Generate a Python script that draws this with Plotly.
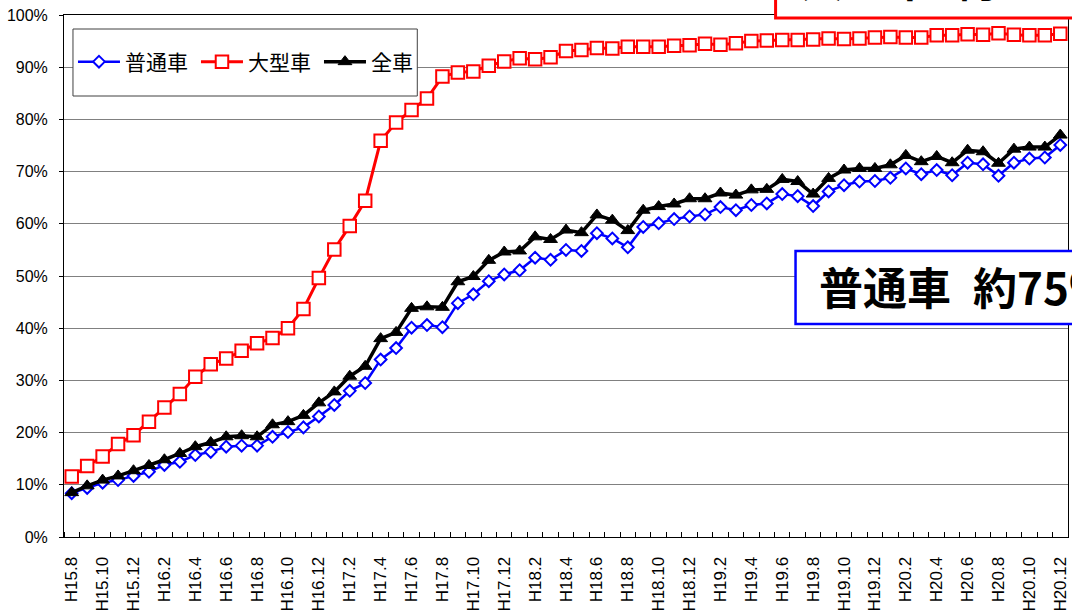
import plotly.graph_objects as go

# 月（平成）
months = [
    "H15.8", "H15.9", "H15.10", "H15.11", "H15.12",
    "H16.1", "H16.2", "H16.3", "H16.4", "H16.5", "H16.6", "H16.7", "H16.8", "H16.9", "H16.10", "H16.11", "H16.12",
    "H17.1", "H17.2", "H17.3", "H17.4", "H17.5", "H17.6", "H17.7", "H17.8", "H17.9", "H17.10", "H17.11", "H17.12",
    "H18.1", "H18.2", "H18.3", "H18.4", "H18.5", "H18.6", "H18.7", "H18.8", "H18.9", "H18.10", "H18.11", "H18.12",
    "H19.1", "H19.2", "H19.3", "H19.4", "H19.5", "H19.6", "H19.7", "H19.8", "H19.9", "H19.10", "H19.11", "H19.12",
    "H20.1", "H20.2", "H20.3", "H20.4", "H20.5", "H20.6", "H20.7", "H20.8", "H20.9", "H20.10", "H20.11", "H20.12",
]

# 普通車（%）
futsu = [
    8.4, 9.4, 10.4, 10.9, 11.7,
    12.5, 13.8, 14.4, 15.7, 16.3, 17.3, 17.5, 17.5, 19.2, 20.1, 21.0, 23.1,
    25.3, 28.0, 29.5, 34.0, 36.2, 40.1, 40.6, 40.2, 44.8, 46.5, 49.0, 50.3,
    51.1, 53.5, 53.1, 55.0, 54.8, 58.2, 57.2, 55.5, 59.4, 60.1, 60.9, 61.4,
    61.8, 63.2, 62.6, 63.6, 63.9, 65.7, 65.3, 63.4, 66.2, 67.4, 68.1, 68.2,
    68.8, 70.6, 69.5, 70.3, 69.3, 71.7, 71.4, 69.2, 71.7, 72.5, 72.7, 75.1,
]

# 大型車（%）
oogata = [
    11.6, 13.6, 15.4, 17.8, 19.5,
    22.1, 24.8, 27.4, 30.7, 33.1, 34.2, 35.7, 37.1, 38.1, 40.0, 43.7, 49.6,
    55.1, 59.6, 64.4, 75.9, 79.4, 81.8, 84.0, 88.2, 89.0, 89.2, 90.3, 91.1,
    91.7, 91.5, 91.9, 93.1, 93.3, 93.7, 93.6, 93.9, 93.9, 93.9, 94.1, 94.2,
    94.5, 94.3, 94.6, 95.0, 95.1, 95.2, 95.2, 95.3, 95.5, 95.4, 95.5, 95.7,
    95.8, 95.7, 95.7, 96.1, 96.1, 96.3, 96.2, 96.5, 96.2, 96.1, 96.1, 96.4,
]

# 全車（%）
zensha = [
    8.5, 9.8, 10.9, 11.7, 12.7,
    13.7, 14.8, 16.0, 17.3, 18.1, 19.2, 19.4, 19.2, 21.5, 22.1, 23.3, 25.7,
    27.8, 30.8, 32.7, 38.0, 39.2, 43.8, 44.1, 44.0, 48.9, 49.9, 53.0, 54.6,
    54.8, 57.5, 57.0, 58.8, 58.3, 61.7, 60.7, 58.7, 62.6, 63.3, 63.8, 64.8,
    64.8, 65.9, 65.5, 66.5, 66.6, 68.5, 68.1, 65.7, 68.7, 70.3, 70.6, 70.6,
    71.3, 73.1, 71.9, 72.9, 71.7, 74.1, 73.8, 71.6, 74.3, 74.7, 74.7, 77.0,
]

y_ticks = [0, 10, 20, 30, 40, 50, 60, 70, 80, 90, 100]

box_texts = ["大型車\u2002約96%", "普通車\u2002約75%"]

W, H = 1072, 614
ML, MR, MT, MB = 64, 2, 15, 77
PW, PH = W - ML - MR, H - MT - MB


def px(xp):
    return (xp - ML) / PW


def py(yp):
    return (H - MB - yp) / PH


xs = list(range(len(months)))
label_idx = xs[::2]

fig = go.Figure()

fig.add_trace(go.Scatter(
    x=xs, y=futsu, name="普通車", mode="lines+markers",
    line=dict(color="#0000ff", width=2.5),
    marker=dict(symbol="diamond", size=9, color="white",
                line=dict(color="#0000ff", width=2)),
))
fig.add_trace(go.Scatter(
    x=xs, y=oogata, name="大型車", mode="lines+markers",
    line=dict(color="#ff0000", width=3),
    marker=dict(symbol="square", size=12.5, color="white",
                line=dict(color="#ff0000", width=2)),
))
fig.add_trace(go.Scatter(
    x=xs, y=zensha, name="全車", mode="lines+markers",
    line=dict(color="#000000", width=3.5),
    marker=dict(symbol="triangle-up", size=12, color="#000000",
                line=dict(color="#000000", width=1)),
))

shapes = [
    # legend frame
    dict(type="rect", xref="paper", yref="paper",
         x0=px(73), x1=px(418), y0=py(96), y1=py(29),
         line=dict(color="#404040", width=1), fillcolor="white", layer="above"),
    # 大型車 box
    dict(type="rect", xref="paper", yref="paper",
         x0=px(777), x1=px(1250), y0=py(18), y1=py(-60),
         line=dict(color="#ff0000", width=3), fillcolor="white", layer="above"),
    # 普通車 box
    dict(type="rect", xref="paper", yref="paper",
         x0=px(797), x1=px(1250), y0=py(324), y1=py(251),
         line=dict(color="#0000ff", width=2.5), fillcolor="white", layer="above"),
]

annotations = [
    dict(xref="paper", yref="paper", x=px(799), y=py(-22), xanchor="left", yanchor="middle",
         text="<b>" + box_texts[0] + "</b>", showarrow=False,
         font=dict(family="Noto Sans CJK JP", size=44, color="black")),
    dict(xref="paper", yref="paper", x=px(819), y=py(286), xanchor="left", yanchor="middle",
         text="<b>" + box_texts[1] + "</b>", showarrow=False,
         font=dict(family="Noto Sans CJK JP", size=44, color="black")),
]

fig.update_layout(
    width=W, height=H,
    margin=dict(l=ML, r=MR, t=MT, b=MB, pad=0),
    paper_bgcolor="white", plot_bgcolor="white",
    font=dict(family="Liberation Sans, Noto Sans CJK JP", color="black"),
    showlegend=True,
    legend=dict(
        orientation="h", xref="paper", yref="paper",
        x=px(73), y=py(62), xanchor="left", yanchor="middle",
        bgcolor="rgba(0,0,0,0)", borderwidth=0,
        font=dict(family="Noto Sans CJK JP", size=21, color="black"),
        traceorder="normal", itemwidth=42,
        entrywidth=66, entrywidthmode="pixels",
    ),
    shapes=shapes,
    annotations=annotations,
    xaxis=dict(
        range=[-0.5, len(months) - 0.5],
        tickmode="array", tickvals=label_idx, ticktext=[months[i] for i in label_idx],
        tickangle=-90, ticks="", ticklabelstandoff=12,
        tickfont=dict(family="Liberation Sans", size=17, color="black"),
        showgrid=False, zeroline=False,
        showline=True, linecolor="black", linewidth=1, mirror=True,
        minor=dict(tickvals=[i - 0.5 for i in range(len(months) + 1)],
                   ticks="inside", ticklen=5, tickcolor="black", tickwidth=1, showgrid=False),
    ),
    yaxis=dict(
        range=[0, 100], tickmode="array", tickvals=y_ticks,
        ticktext=[f"{v}%" for v in y_ticks],
        ticks="outside", ticklen=4, tickcolor="black", ticklabelstandoff=8,
        tickfont=dict(family="Liberation Sans", size=16, color="black"),
        showgrid=True, gridcolor="#808080", gridwidth=1, zeroline=False,
        showline=True, linecolor="black", linewidth=1, mirror=True,
    ),
)

fig.write_html("out.html")
